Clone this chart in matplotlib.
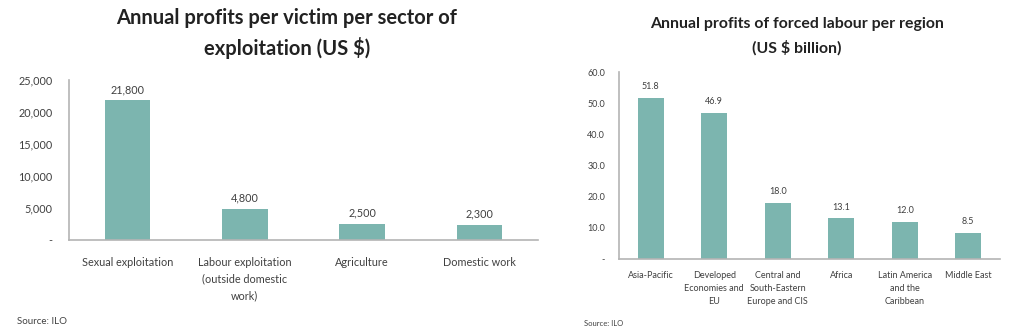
import matplotlib.pyplot as plt

# profits per victim, by sector (US $)
sectors = ['Sexual exploitation', 'Labour exploitation\n(outside domestic\nwork)',
           'Agriculture', 'Domestic work']
sector_profit = [21800, 4800, 2500, 2300]
sector_ticks = [0, 5000, 10000, 15000, 20000, 25000]

# profits per region (US $ billion)
regions = ['Asia-Pacific', 'Developed\nEconomies and\nEU', 'Central and\nSouth-Eastern\nEurope and CIS',
           'Africa', 'Latin America\nand the\nCaribbean', 'Middle East']
region_profit = [51.8, 46.9, 18.0, 13.1, 12.0, 8.5]
region_ticks = [0, 10, 20, 30, 40, 50, 60]

BAR = '#7cb5af'
AXIS = '#b4b4b4'
TXT = '#404040'
plt.rcParams['font.family'] = ['Lato', 'DejaVu Sans']

W, H = 1024, 328
fig = plt.figure(figsize=(W / 100, H / 100), dpi=100)
fig.patch.set_facecolor('white')


def px_axes(left, top, right, bottom):
    return fig.add_axes([left / W, (H - bottom) / H, (right - left) / W, (bottom - top) / H])


def style(ax):
    for s in ['top', 'right']:
        ax.spines[s].set_visible(False)
    for s in ['left', 'bottom']:
        ax.spines[s].set_color(AXIS)
        ax.spines[s].set_linewidth(1.2)
    ax.tick_params(length=0)


# left chart
ax1 = px_axes(69, 80, 538, 240)
x1 = range(len(sectors))
ax1.bar(x1, sector_profit, width=0.39, color=BAR)
ax1.set_xlim(-0.5, len(sectors) - 0.5)
ax1.set_ylim(0, 25000)
ax1.set_yticks(sector_ticks)
ax1.set_yticklabels(['-' if v == 0 else f'{v:,}' for v in sector_ticks], fontsize=7.8, color=TXT)
ax1.set_xticks(list(x1))
ax1.set_xticklabels(sectors, fontsize=7.8, color=TXT, linespacing=1.65, va='top')
ax1.tick_params(axis='x', pad=12)
ax1.tick_params(axis='y', pad=12)
style(ax1)
for i, v in zip(x1, sector_profit):
    ax1.annotate(f'{v:,}', (i, v), xytext=(0, 11), textcoords='offset pixels',
                 ha='center', va='center', fontsize=7.8, color=TXT)
fig.text(287 / W, 1 - 18 / H, 'Annual profits per victim per sector of', ha='center', va='center',
         fontsize=14.5, fontweight='bold', color='#222222')
fig.text(287 / W, 1 - 48 / H, 'exploitation (US $)', ha='center', va='center',
         fontsize=14.5, fontweight='bold', color='#222222')
fig.text(17 / W, 1 - 322 / H, 'Source: ILO', ha='left', va='center', fontsize=7, color=TXT)

# right chart
ax2 = px_axes(619, 72, 1000, 259)
x2 = range(len(regions))
ax2.bar(x2, region_profit, width=0.41, color=BAR)
ax2.set_xlim(-0.5, len(regions) - 0.5)
ax2.set_ylim(0, 60)
ax2.set_yticks(region_ticks)
ax2.set_yticklabels(['-' if v == 0 else f'{v:.1f}' for v in region_ticks], fontsize=6.5, color=TXT)
ax2.set_xticks(list(x2))
ax2.set_xticklabels(regions, fontsize=6.5, color=TXT, linespacing=1.5, va='top')
ax2.tick_params(axis='x', pad=9)
ax2.tick_params(axis='y', pad=10)
style(ax2)
for i, v in zip(x2, region_profit):
    ax2.annotate(f'{v:.1f}', (i, v), xytext=(0, 11), textcoords='offset pixels',
                 ha='center', va='center', fontsize=6.5, color=TXT)
fig.text(797 / W, 1 - 24 / H, 'Annual profits of forced labour per region', ha='center', va='center',
         fontsize=11.4, fontweight='bold', color='#222222')
fig.text(797 / W, 1 - 48 / H, '(US $ billion)', ha='center', va='center',
         fontsize=11.4, fontweight='bold', color='#222222')
fig.text(584 / W, 1 - 327 / H, 'Source: ILO', ha='left', va='bottom', fontsize=5.5, color=TXT)

fig.savefig('out.png', dpi=100, facecolor='white')
